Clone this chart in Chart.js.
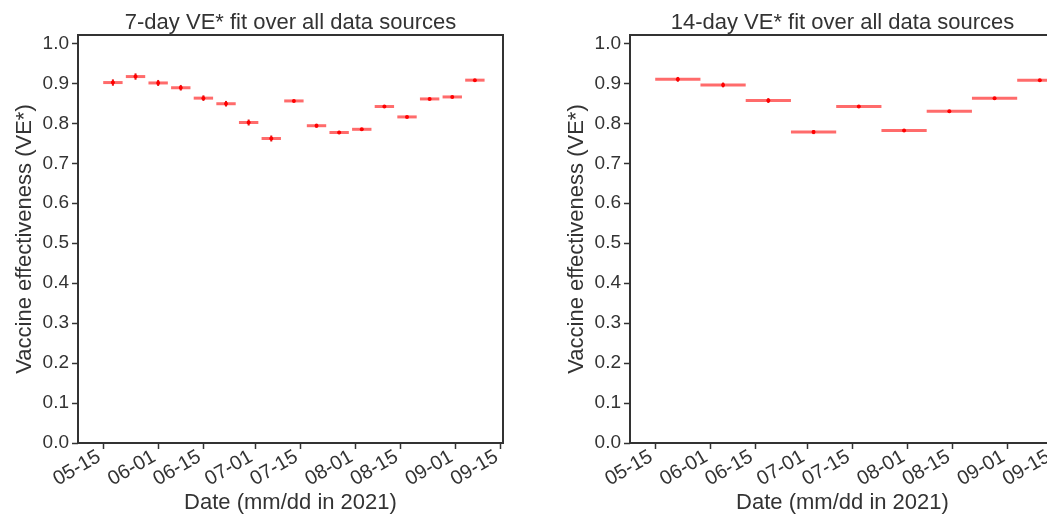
<!DOCTYPE html>
<html>
<head>
<meta charset="utf-8">
<script src="https://cdn.jsdelivr.net/npm/chart.js@4.4.1/dist/chart.umd.min.js"></script>
<style>
  html, body { margin: 0; padding: 0; background: #fff; overflow: hidden; width: 1047px; height: 514px; }
  canvas { position: absolute; top: 0; }
  #weekChart { left: 0; }
  #fortnightChart { left: 552px; }
</style>
</head>
<body>
<canvas id="weekChart" width="530" height="514"></canvas>
<canvas id="fortnightChart" width="530" height="514"></canvas>
<script>
// tick labels on the date axis (mm-dd, 2021)
var xTickLabels = ['05-15', '06-01', '06-15', '07-01', '07-15', '08-01', '08-15', '09-01', '09-15'];
var yTicks = [0.0, 0.1, 0.2, 0.3, 0.4, 0.5, 0.6, 0.7, 0.8, 0.9, 1.0];

// 7-day fits: window centre, VE*, half width of the CI
var weekCenters = ['05-18', '05-25', '06-01', '06-08', '06-15', '06-22', '06-29', '07-06', '07-13',
                   '07-20', '07-27', '08-03', '08-10', '08-17', '08-24', '08-31', '09-07'];
var weekVE = [0.902, 0.917, 0.901, 0.889, 0.863, 0.849, 0.802, 0.762, 0.856,
              0.794, 0.777, 0.785, 0.842, 0.816, 0.861, 0.866, 0.908];
var weekErr = [0.008, 0.008, 0.0075, 0.007, 0.007, 0.007, 0.0075, 0.0075, 0.003,
               0.005, 0.004, 0.003, 0.0025, 0.0025, 0.0025, 0.0025, 0.0025];
var weekHalfDays = 3;

// 14-day fits
var fortnightCenters = ['05-22', '06-05', '06-19', '07-03', '07-17', '07-31', '08-14', '08-28', '09-11'];
var fortnightVE = [0.910, 0.896, 0.857, 0.778, 0.842, 0.782, 0.830, 0.863, 0.908];
var fortnightErr = [0.006, 0.006, 0.006, 0.005, 0.003, 0.003, 0.0025, 0.0025, 0.0025];
var fortnightHalfDays = 7;

// days since 05-15
function toDay(md) {
    var p = md.split('-');
    return (Date.UTC(2021, +p[0] - 1, +p[1]) - Date.UTC(2021, 4, 15)) / 86400000;
}

var ink = '#333333';
var fontName = '"Liberation Sans", Arial, sans-serif';

// error bars drawn from the dataset's own scales
var errorBars = {
    id: 'errorBars',
    beforeDatasetsDraw: function(chart) {
        var ds = chart.data.datasets[0];
        var xs = chart.scales.x, ys = chart.scales.y, c = chart.ctx;
        c.save();
        c.lineCap = 'butt';
        ds.data.forEach(function(p, i) {
            c.strokeStyle = 'rgba(255,0,0,0.58)';
            c.lineWidth = 3;
            c.beginPath();
            c.moveTo(xs.getPixelForValue(p.x - ds.halfDays), ys.getPixelForValue(p.y));
            c.lineTo(xs.getPixelForValue(p.x + ds.halfDays), ys.getPixelForValue(p.y));
            c.stroke();
            c.strokeStyle = 'rgba(225,0,0,0.9)';
            c.lineWidth = 2;
            c.beginPath();
            c.moveTo(xs.getPixelForValue(p.x), ys.getPixelForValue(p.y - ds.err[i]));
            c.lineTo(xs.getPixelForValue(p.x), ys.getPixelForValue(p.y + ds.err[i]));
            c.stroke();
        });
        c.restore();
    },
    afterDraw: function(chart) {
        var a = chart.chartArea, c = chart.ctx;
        c.save();
        c.strokeStyle = ink;
        c.lineWidth = 2;
        c.strokeRect(a.left, a.top, a.right - a.left, a.bottom - a.top);
        c.restore();
    }
};

function makeChart(id, title, centers, values, errs, halfDays) {
    var ctx = document.getElementById(id).getContext('2d');
    return new Chart(ctx, {
        type: 'scatter',
        data: {
            datasets: [{
                data: centers.map(function(d, i) { return { x: toDay(d), y: values[i] }; }),
                err: errs,
                halfDays: halfDays,
                backgroundColor: '#ff0000',
                borderWidth: 0,
                pointRadius: 2,
                pointHoverRadius: 2
            }]
        },
        options: {
            responsive: false,
            animation: false,
            events: [],
            layout: { padding: { left: 0, right: 27, top: 0, bottom: 0 } },
            plugins: {
                legend: { display: false },
                tooltip: { enabled: false },
                title: {
                    display: true,
                    text: title,
                    fullSize: false,
                    color: ink,
                    font: { family: fontName, size: 22, weight: 'normal', lineHeight: 1.2 },
                    padding: { top: 9.5, bottom: -0.9 }
                }
            },
            scales: {
                x: {
                    type: 'linear',
                    min: -7.8,
                    max: 123.7,
                    afterBuildTicks: function(scale) {
                        scale.ticks = xTickLabels.map(function(t) { return { value: toDay(t) }; });
                    },
                    afterFit: function(scale) { scale.height = 71; },
                    grid: { drawOnChartArea: false, drawTicks: true, tickLength: 6, tickColor: ink, tickWidth: 1.5 },
                    border: { display: false },
                    ticks: {
                        autoSkip: false,
                        minRotation: 30,
                        maxRotation: 30,
                        padding: -4,
                        labelOffset: -4,
                        color: ink,
                        font: { family: fontName, size: 20 },
                        callback: function(v, i) { return xTickLabels[i]; }
                    },
                    title: {
                        display: true,
                        text: 'Date (mm/dd in 2021)',
                        color: ink,
                        font: { family: fontName, size: 22, lineHeight: 1 },
                        padding: { top: -1, bottom: 0 }
                    }
                },
                y: {
                    min: 0,
                    max: 1.021,
                    afterBuildTicks: function(scale) {
                        scale.ticks = yTicks.map(function(v) { return { value: v }; });
                    },
                    afterFit: function(scale) { scale.width = 78; },
                    grid: { drawOnChartArea: false, drawTicks: true, tickLength: 6, tickColor: ink, tickWidth: 1.5 },
                    border: { display: false },
                    ticks: {
                        padding: 3,
                        color: ink,
                        font: { family: fontName, size: 19 },
                        callback: function(v) { return v.toFixed(1); }
                    },
                    title: {
                        display: true,
                        text: 'Vaccine effectiveness (VE*)',
                        color: ink,
                        font: { family: fontName, size: 22, lineHeight: 1.2 },
                        padding: { top: 12, bottom: 0 }
                    }
                }
            }
        },
        plugins: [errorBars]
    });
}

makeChart('weekChart', '7-day VE* fit over all data sources', weekCenters, weekVE, weekErr, weekHalfDays);
makeChart('fortnightChart', '14-day VE* fit over all data sources', fortnightCenters, fortnightVE, fortnightErr, fortnightHalfDays);
</script>
</body>
</html>
